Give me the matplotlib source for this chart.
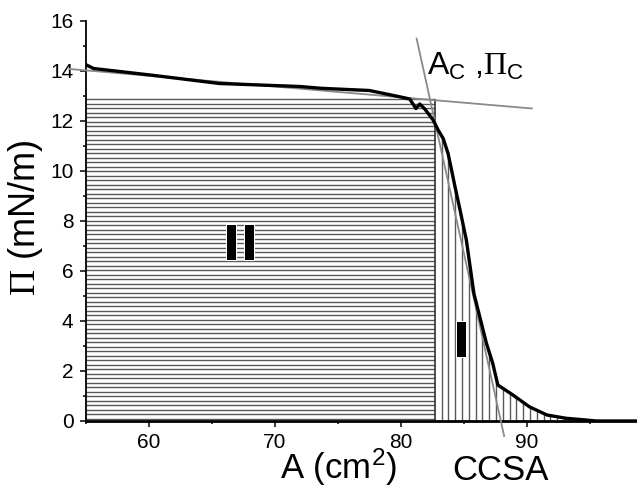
import numpy as np
import matplotlib
matplotlib.use('Agg')
import matplotlib.pyplot as plt
import matplotlib.patheffects as pe
from matplotlib.ticker import MultipleLocator

# isotherm (area vs surface pressure)
area = [55.0, 55.6, 60.1, 62.7, 65.6, 72.0, 73.6, 77.5, 79.9, 80.7, 81.2, 81.5,
        81.9, 82.56, 82.96, 83.36, 83.75, 84.0, 84.3, 84.7, 85.2, 85.5, 85.8,
        86.3, 86.8, 87.3, 87.7, 88.9, 90.2, 91.6, 93.1, 94.7, 95.5, 99.0]
pressure = [14.25, 14.1, 13.84, 13.68, 13.5, 13.38, 13.31, 13.22, 12.97, 12.88,
            12.5, 12.68, 12.48, 12.04, 11.64, 11.3, 10.7, 10.1, 9.37, 8.44,
            7.24, 6.17, 5.1, 4.1, 3.1, 2.3, 1.44, 1.04, 0.57, 0.24, 0.11,
            0.04, 0.0, 0.0]

# tangent lines
flat_x = [53.7, 90.4]
flat_y = [14.08, 12.5]
steep_x = [81.25, 88.2]
steep_y = [15.3, -0.6]

# collapse point
a_c = 82.7
pi_c = 12.86

plt.rcParams['font.family'] = ['Liberation Sans', 'DejaVu Sans']
plt.rcParams['mathtext.fontset'] = 'custom'
plt.rcParams['mathtext.rm'] = 'Liberation Sans'
plt.rcParams['mathtext.it'] = 'Liberation Sans:italic'
plt.rcParams['mathtext.sf'] = 'Liberation Serif'

fig = plt.figure(figsize=(6.37, 4.88), dpi=100)
ax = fig.add_axes([86 / 637, 67 / 488, 551 / 637, 400 / 488])

# region II : horizontal hatching
for y in np.arange(pi_c, 0, -0.18):
    ax.hlines(y, 55, a_c, color='0.35', lw=1.0)
# region I : vertical hatching under the curve
ax.vlines(a_c, 0, pi_c, color='0.2', lw=1.2)
for x in np.arange(a_c + 0.54, 93.5, 0.54):
    ax.vlines(x, 0, np.interp(x, area, pressure), color='0.35', lw=1.0)

ax.plot(flat_x, flat_y, color='#8a8a8a', lw=1.3, clip_on=False, zorder=4)
ax.plot(steep_x, steep_y, color='#8a8a8a', lw=1.3, clip_on=False, zorder=4)
ax.plot(area, pressure, color='black', lw=2.4, zorder=5, solid_joinstyle='round')

halo = [pe.withStroke(linewidth=1.5, foreground='white')]
ax.text(67.3, 7.0, 'II', fontsize=35, fontweight='bold', family='DejaVu Sans',
        ha='center', va='center', path_effects=halo, zorder=6)
ax.text(84.8, 3.12, 'I', fontsize=35, fontweight='bold', family='DejaVu Sans',
        ha='center', va='center', path_effects=halo, zorder=6)

ax.text(82.1, 13.84, r'A$_{\mathrm{C}}$ ,$\mathsf{\Pi}_{\mathrm{C}}$', fontsize=23,
        ha='left', va='baseline', clip_on=False)
ax.text(84.1, -2.36, 'CCSA', fontsize=25, ha='left', va='baseline', clip_on=False)
ax.text(70.4, -2.32, r'A (cm$^{\mathrm{2}}$)', fontsize=25, ha='left',
        va='baseline', clip_on=False)
fig.text(26 / 637, 1 - 218 / 488, r'$\mathsf{\Pi}$ (mN/m)', fontsize=26,
         rotation=90, ha='center', va='center')

ax.set_xlim(55, 98.75)
ax.set_ylim(0, 16)
ax.xaxis.set_major_locator(MultipleLocator(10))
ax.xaxis.set_minor_locator(MultipleLocator(5))
ax.yaxis.set_major_locator(MultipleLocator(2))
ax.yaxis.set_minor_locator(MultipleLocator(1))
ax.tick_params(which='major', direction='out', length=4, width=1.1,
               labelsize=15, pad=5)
ax.tick_params(which='minor', direction='out', length=2.5, width=1.1)

ax.spines['top'].set_visible(False)
ax.spines['right'].set_visible(False)
ax.spines['left'].set_linewidth(1.3)
ax.spines['bottom'].set_linewidth(2.0)

fig.savefig('out.png', dpi=100)
